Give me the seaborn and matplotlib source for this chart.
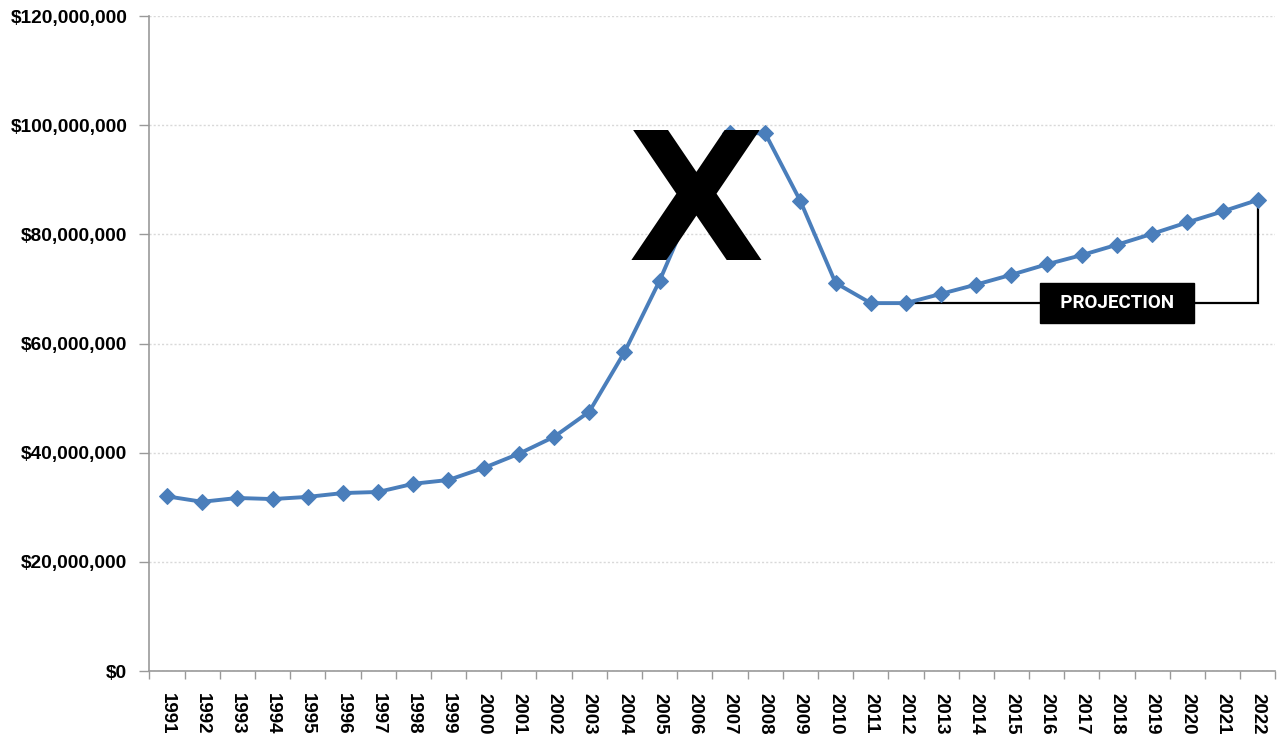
import matplotlib
matplotlib.use("Agg")
import matplotlib.pyplot as plt
import matplotlib.ticker as mticker
import numpy as np
import pandas as pd
import seaborn as sns

# Annual totals, 1991-2011 actual and 2012-2022 projected
years = [str(y) for y in range(1991, 2023)]
totals = [
    32.0e6, 31.0e6, 31.7e6, 31.5e6, 31.9e6, 32.6e6, 32.8e6, 34.3e6,
    35.0e6, 37.2e6, 39.8e6, 42.9e6, 47.5e6, 58.4e6, 71.5e6, 86.5e6,
    98.6e6, 98.5e6, 86.1e6, 71.1e6, 67.4e6, 67.4e6, 69.1e6, 70.8e6,
    72.6e6, 74.5e6, 76.2e6, 78.1e6, 80.1e6, 82.2e6, 84.2e6, 86.3e6,
]
projection_start = "2012"
projection_label = "PROJECTION"
y_ticks = [0, 20e6, 40e6, 60e6, 80e6, 100e6, 120e6]

df = pd.DataFrame({"year": years, "total": totals})
df["pos"] = np.arange(len(df))

sns.set_theme(style="white")
plt.rcParams["font.family"] = ["Liberation Sans", "DejaVu Sans"]

fig = plt.figure(figsize=(12.81, 7.38), dpi=100)
ax = fig.add_axes([149.4 / 1281, 67 / 738, 1126 / 1281, 655 / 738])

line_color = "#4a7ebb"
sns.lineplot(data=df, x="pos", y="total", ax=ax, color=line_color,
             linewidth=2.8, marker="D", markersize=8.5,
             markeredgecolor=line_color, markerfacecolor=line_color, zorder=3)

ax.set_xlim(-0.5, len(df) - 0.5)
ax.set_ylim(y_ticks[0], y_ticks[-1])
ax.set_xlabel("")
ax.set_ylabel("")

# Category labels at centres, tick marks at category boundaries
ax.set_xticks(df["pos"])
ax.set_xticklabels(df["year"], rotation=270, fontsize=13.5, fontweight="bold",
                   color="black", va="top", ha="center")
ax.set_xticks(np.arange(-0.5, len(df)), minor=True)
ax.tick_params(axis="x", which="major", length=0, pad=16)
ax.tick_params(axis="x", which="minor", length=6, width=1, color="#999999",
               direction="out", bottom=True)

ax.set_yticks(y_ticks)
ax.yaxis.set_major_formatter(mticker.FuncFormatter(lambda v, _: f"${v:,.0f}"))
ax.tick_params(axis="y", which="major", length=7, width=1, color="#999999",
               direction="out", left=True, labelsize=13.8, pad=9,
               labelcolor="black")
for lab in ax.get_yticklabels():
    lab.set_fontweight("bold")

ax.yaxis.grid(True, linestyle=(0, (1.5, 1.5)), color="#d9d9d9", linewidth=1)
ax.set_axisbelow(True)

for side in ("top", "right"):
    ax.spines[side].set_visible(False)
for side in ("left", "bottom"):
    ax.spines[side].set_color("#999999")
    ax.spines[side].set_linewidth(1.2)

# Bracket marking the projected years
start_idx = years.index(projection_start)
end_idx = len(years) - 1
base = totals[start_idx]
ax.plot([start_idx, end_idx, end_idx], [base, base, totals[end_idx]],
        color="black", linewidth=1.6, zorder=2, solid_joinstyle="miter")
ax.text((start_idx + end_idx) / 2 + 1, base, "  " + projection_label + "  ",
        family=["Roboto", "DejaVu Sans"], fontweight="bold", fontsize=13.5,
        color="white", ha="center", va="center", zorder=5,
        bbox=dict(boxstyle="square,pad=0.58", facecolor="black",
                  edgecolor="black"))

# Large crossing mark over the peak years
ax.text(15.05, 84.3e6, "X", family=["DejaVu Sans"], fontweight="heavy",
        fontsize=128, color="black", ha="center", va="center", zorder=6)

fig.savefig("out.png", dpi=100)
